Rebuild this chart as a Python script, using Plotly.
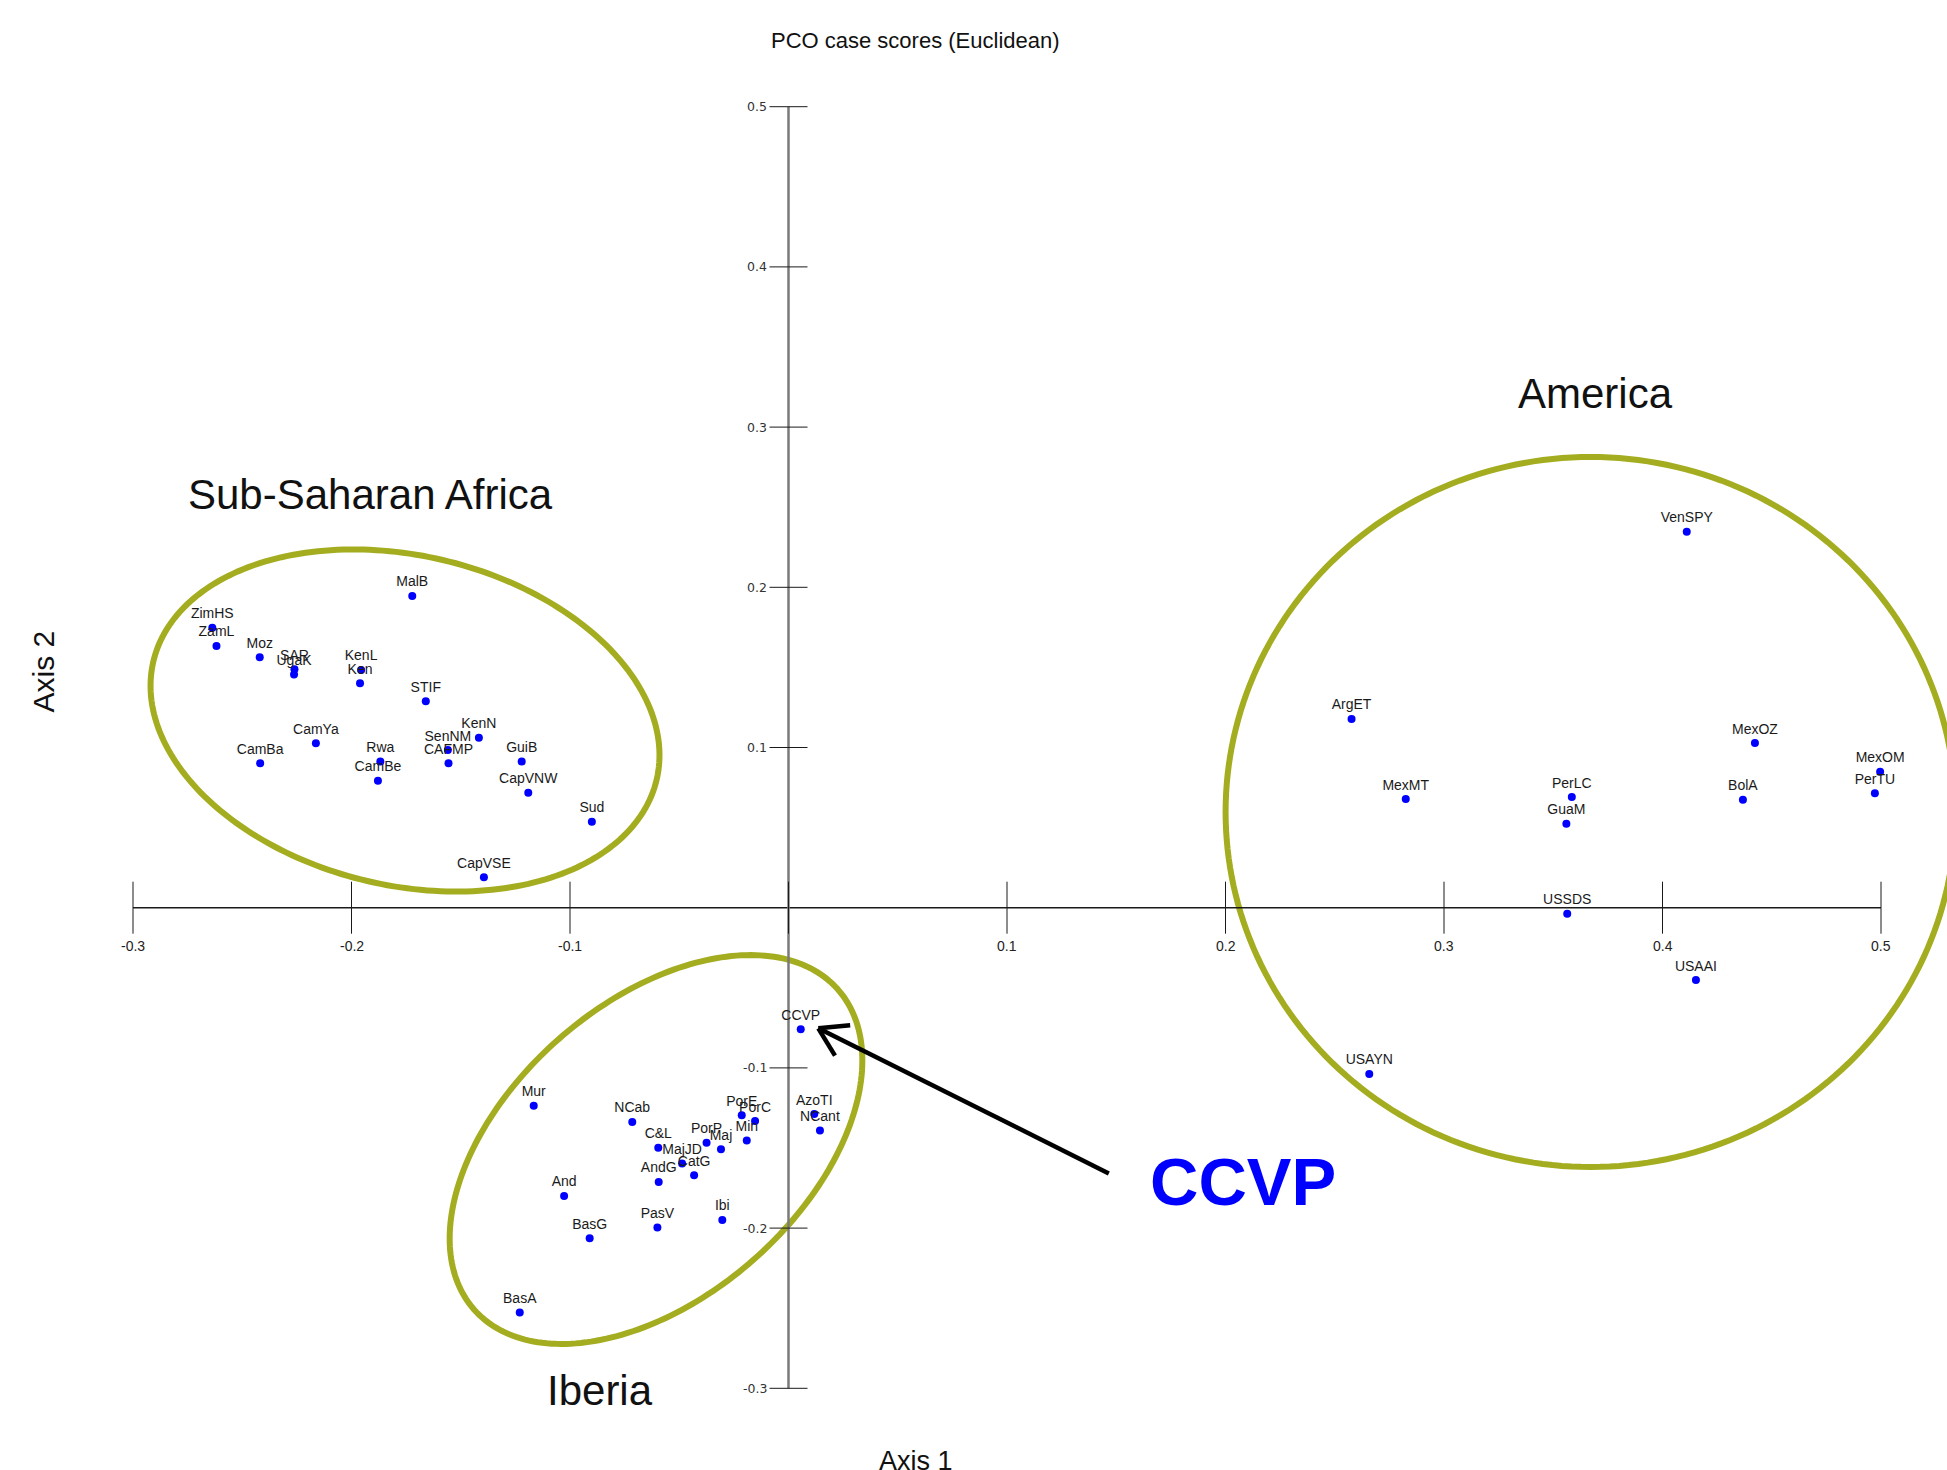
import numpy as np
import plotly.graph_objects as go

# ---------------- data ----------------
africa_labels = ["MalB", "ZimHS", "ZamL", "Moz", "SAR", "UgaK", "KenL", "Ken", "STIF", "CamYa",
                 "CamBa", "Rwa", "CamBe", "KenN", "SenNM", "CAFMP", "GuiB", "CapVNW", "Sud", "CapVSE"]
africa_x = [-0.1722, -0.2637, -0.2618, -0.2420, -0.2261, -0.2263, -0.1956, -0.1961, -0.1660, -0.2163,
            -0.2418, -0.1868, -0.1879, -0.1417, -0.1559, -0.1556, -0.1221, -0.1191, -0.0900, -0.1394]
africa_y = [0.1946, 0.1748, 0.1634, 0.1563, 0.1488, 0.1455, 0.1484, 0.1401, 0.1288, 0.1026,
            0.0901, 0.0912, 0.0793, 0.1061, 0.0984, 0.0901, 0.0912, 0.0718, 0.0537, 0.0190]

iberia_labels = ["CCVP", "Mur", "NCab", "C&L", "PorP", "Maj", "MajJD", "CatG", "AndG", "PorE",
                 "PorC", "Min", "AzoTI", "NCant", "And", "PasV", "Ibi", "BasG", "BasA"]
iberia_x = [0.0056, -0.1166, -0.0715, -0.0596, -0.0375, -0.0309, -0.0487, -0.0432, -0.0594, -0.0214,
            -0.0153, -0.0191, 0.0118, 0.0144, -0.1027, -0.0600, -0.0303, -0.0910, -0.1230]
iberia_y = [-0.0759, -0.1237, -0.1337, -0.1499, -0.1468, -0.1508, -0.1597, -0.1670, -0.1712, -0.1296,
            -0.1332, -0.1453, -0.1288, -0.1391, -0.1799, -0.1997, -0.1949, -0.2063, -0.2527]

america_labels = ["VenSPY", "ArgET", "MexOZ", "MexOM", "PerTU", "MexMT", "PerLC", "GuaM", "BolA",
                  "USSDS", "USAAI", "USAYN"]
america_x = [0.4111, 0.2577, 0.4423, 0.4996, 0.4972, 0.2825, 0.3585, 0.3560, 0.4368, 0.3564, 0.4153, 0.2658]
america_y = [0.2347, 0.1178, 0.1028, 0.0849, 0.0714, 0.0678, 0.0691, 0.0524, 0.0674, -0.0037, -0.0452, -0.1038]

x_ticks = [-0.3, -0.2, -0.1, 0.0, 0.1, 0.2, 0.3, 0.4, 0.5]
x_tick_labels = ["-0.3", "-0.2", "-0.1", "", "0.1", "0.2", "0.3", "0.4", "0.5"]
y_ticks = [-0.3, -0.2, -0.1, 0.0, 0.1, 0.2, 0.3, 0.4, 0.5]
y_tick_labels = ["-0.3", "-0.2", "-0.1", "", "0.1", "0.2", "0.3", "0.4", "0.5"]

# ---------------- layout geometry ----------------
W, H = 1947, 1470
KX, KY = 2185.0, 1602.0          # pixels per data unit
X0PX, Y0PX = 788.5, 907.7        # pixel position of the origin
xr = [-X0PX / KX, (W - X0PX) / KX]
yr = [-(H - Y0PX) / KY, Y0PX / KY]

OLIVE = "#a3ad1f"
BLUE = "#0000ff"
LABEL_FONT = dict(family="Liberation Sans, Arial, sans-serif", size=14, color="#1a1a1a")

fig = go.Figure()

all_labels = africa_labels + iberia_labels + america_labels
all_x = africa_x + iberia_x + america_x
all_y = africa_y + iberia_y + america_y

# ---------------- ellipses (center in data, semi-axes in px, rotation in screen degrees) ----------------
ellipses = [
    dict(cx=-0.17551, cy=0.11685, a=258.5, b=164.9, rot=13.2),
    dict(cx=-0.06064, cy=-0.15094, a=242.3, b=147.2, rot=-41.3),
    dict(cx=0.36709, cy=0.05974, a=365.0, b=355.0, rot=0.0),
]
shapes = []
for e in ellipses:
    t = np.linspace(0, 2 * np.pi, 241)
    th = np.deg2rad(e["rot"])
    dxp = e["a"] * np.cos(t) * np.cos(th) - e["b"] * np.sin(t) * np.sin(th)
    dyp = e["a"] * np.cos(t) * np.sin(th) + e["b"] * np.sin(t) * np.cos(th)
    xs = e["cx"] + dxp / KX
    ys = e["cy"] - dyp / KY
    path = "M " + " L ".join(f"{a:.6f},{b:.6f}" for a, b in zip(xs, ys)) + " Z"
    shapes.append(dict(type="path", path=path, xref="x", yref="y",
                       line=dict(color=OLIVE, width=6), fillcolor="rgba(0,0,0,0)", layer="below"))

# ---------------- custom axes through origin ----------------
shapes.append(dict(type="line", xref="x", yref="y", x0=x_ticks[0], x1=x_ticks[-1], y0=0, y1=0,
                   line=dict(color="#1a1a1a", width=1.5), layer="below"))
shapes.append(dict(type="line", xref="x", yref="y", x0=0, x1=0, y0=y_ticks[0], y1=y_ticks[-1],
                   line=dict(color="#7a7a7a", width=2.5), layer="below"))
xt_half = 26 / KY
for v in x_ticks:
    shapes.append(dict(type="line", xref="x", yref="y", x0=v, x1=v, y0=-xt_half, y1=xt_half,
                       line=dict(color="#1a1a1a", width=1), layer="below"))
yt_half = 19 / KX
for v in y_ticks:
    if v == 0:
        continue
    shapes.append(dict(type="line", xref="x", yref="y", x0=-yt_half, x1=yt_half, y0=v, y1=v,
                       line=dict(color="#1a1a1a", width=1), layer="below"))

annotations = []
for v, lab in zip(x_ticks, x_tick_labels):
    if lab:
        annotations.append(dict(x=v, y=-38 / KY, xref="x", yref="y", text=lab, showarrow=False,
                                xanchor="center", yanchor="middle",
                                font=dict(family="Liberation Sans, Arial", size=14, color="#222222")))
for v, lab in zip(y_ticks, y_tick_labels):
    if lab:
        annotations.append(dict(x=-yt_half - 1 / KX, y=v, xref="x", yref="y", text=lab, showarrow=False,
                                xanchor="right", yanchor="middle",
                                font=dict(family="DejaVu Sans", size=12.5, color="#333333")))

# ---------------- points ----------------
fig.add_trace(go.Scatter(x=all_x, y=all_y, mode="markers+text", text=all_labels,
                         textposition="top center", textfont=LABEL_FONT,
                         marker=dict(color=BLUE, size=8), cliponaxis=False, hoverinfo="text"))

# ---------------- arrow to CCVP ----------------
head = (0.01364, -0.0753)
tail = (0.1466, -0.1659)
shapes.append(dict(type="line", xref="x", yref="y", x0=tail[0], y0=tail[1], x1=head[0], y1=head[1],
                   line=dict(color="black", width=4.5)))
# chevron head, computed in pixel space
dxp = (tail[0] - head[0]) * KX
dyp = -(tail[1] - head[1]) * KY
ang = np.arctan2(dyp, dxp)
for s in (-1, 1):
    aa = ang + s * np.deg2rad(32)
    ex = head[0] + 32 * np.cos(aa) / KX
    ey = head[1] - 32 * np.sin(aa) / KY
    shapes.append(dict(type="line", xref="x", yref="y", x0=head[0], y0=head[1], x1=ex, y1=ey,
                       line=dict(color="black", width=4.5)))

# ---------------- texts ----------------
big = dict(family="Liberation Sans, Arial", size=42, color="#111111")
annotations += [
    dict(x=0.3694, y=0.3209, xref="x", yref="y", text="America", showarrow=False, font=big,
         xanchor="center", yanchor="middle"),
    dict(x=-0.1911, y=0.2582, xref="x", yref="y", text="Sub-Saharan Africa", showarrow=False, font=big,
         xanchor="center", yanchor="middle"),
    dict(x=-0.0863, y=-0.3015, xref="x", yref="y", text="Iberia", showarrow=False, font=big,
         xanchor="center", yanchor="middle"),
    dict(x=0.2080, y=-0.1706, xref="x", yref="y", text="<b>CCVP</b>", showarrow=False,
         xanchor="center", yanchor="middle",
         font=dict(family="Liberation Sans, Arial", size=67, color=BLUE)),
    dict(x=915.7 / W, y=1 - 40 / H, xref="paper", yref="paper", text="PCO case scores (Euclidean)",
         showarrow=False, xanchor="center", yanchor="middle",
         font=dict(family="Liberation Sans, Arial", size=22, color="#111111")),
    dict(x=915.7 / W, y=1 - 1461 / H, xref="paper", yref="paper", text="Axis 1", showarrow=False,
         xanchor="center", yanchor="middle",
         font=dict(family="Liberation Sans, Arial", size=27, color="#111111")),
    dict(x=43.5 / W, y=1 - 672 / H, xref="paper", yref="paper", text="Axis 2", showarrow=False,
         xanchor="center", yanchor="middle",
         textangle=-90, font=dict(family="Liberation Sans, Arial", size=30, color="#111111")),
]

fig.update_layout(
    width=W, height=H, margin=dict(l=0, r=0, t=0, b=0),
    paper_bgcolor="white", plot_bgcolor="white", showlegend=False,
    xaxis=dict(range=xr, visible=False, showgrid=False, zeroline=False, fixedrange=True),
    yaxis=dict(range=yr, visible=False, showgrid=False, zeroline=False, fixedrange=True),
    shapes=shapes, annotations=annotations,
)

fig.write_html("out.html", config={"displayModeBar": False},
               post_script="document.body.style.margin='0';document.body.style.overflow='hidden';")
